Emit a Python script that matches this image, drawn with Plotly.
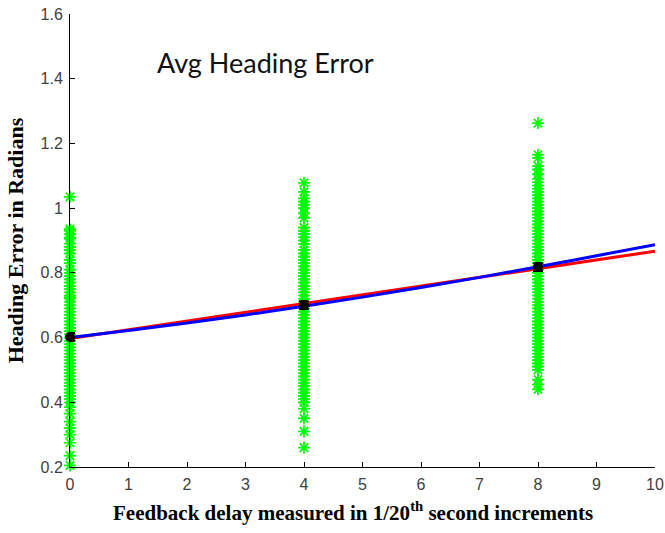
import plotly.graph_objects as go

# ---- data ----
delays = [0, 4, 8]

errors_d0 = [1.035, 0.935, 0.93, 0.92, 0.91, 0.905, 0.89, 0.88, 0.87, 0.86, 0.84, 0.83,
             0.81, 0.80, 0.79, 0.78, 0.77, 0.76, 0.75, 0.74, 0.73, 0.725, 0.72, 0.71,
             0.70, 0.69, 0.68, 0.67, 0.66, 0.65, 0.64, 0.63, 0.62, 0.61, 0.60, 0.59,
             0.58, 0.57, 0.56, 0.55, 0.54, 0.53, 0.52, 0.51, 0.50, 0.49, 0.48, 0.47,
             0.46, 0.45, 0.44, 0.43, 0.42, 0.41, 0.40, 0.385, 0.365, 0.34, 0.32, 0.30,
             0.275, 0.235, 0.205]
errors_d4 = [1.078, 1.05, 1.03, 1.02, 1.01, 1.0, 0.985, 0.97, 0.94, 0.93, 0.92, 0.91,
             0.90, 0.89, 0.87, 0.86, 0.85, 0.84, 0.83, 0.82, 0.81, 0.80, 0.79, 0.78,
             0.77, 0.76, 0.75, 0.74, 0.73, 0.72, 0.71, 0.70, 0.69, 0.68, 0.67, 0.66,
             0.65, 0.64, 0.63, 0.62, 0.61, 0.60, 0.59, 0.58, 0.57, 0.56, 0.55, 0.54,
             0.53, 0.52, 0.51, 0.50, 0.49, 0.48, 0.47, 0.46, 0.45, 0.44, 0.43, 0.42,
             0.41, 0.40, 0.38, 0.35, 0.31, 0.26]
errors_d8 = [1.263, 1.165, 1.155, 1.13, 1.12, 1.105, 1.09, 1.08, 1.07, 1.06, 1.05, 1.04,
             1.03, 1.02, 1.01, 1.00, 0.99, 0.98, 0.97, 0.96, 0.95, 0.94, 0.93, 0.92,
             0.91, 0.90, 0.89, 0.88, 0.87, 0.86, 0.85, 0.84, 0.83, 0.82, 0.81, 0.80,
             0.79, 0.78, 0.77, 0.76, 0.75, 0.74, 0.73, 0.72, 0.71, 0.70, 0.69, 0.68,
             0.67, 0.66, 0.65, 0.64, 0.63, 0.62, 0.61, 0.60, 0.59, 0.58, 0.57, 0.56,
             0.55, 0.54, 0.53, 0.52, 0.51, 0.50, 0.47, 0.455, 0.44]

mean_errors = [0.602, 0.700, 0.818]
mean_err_bars = [0.012, 0.012, 0.012]

red_fit_x = [0, 10]
red_fit = [0.597, 0.867]
blue_fit_x = [0, 1, 2, 3, 4, 5, 6, 7, 8, 9, 10]
blue_fit = [0.600, 0.622, 0.645, 0.670, 0.697, 0.725, 0.755, 0.786, 0.819, 0.853, 0.887]

x_ticks = [0, 1, 2, 3, 4, 5, 6, 7, 8, 9, 10]
y_ticks = [0.2, 0.4, 0.6, 0.8, 1.0, 1.2, 1.4, 1.6]
y_tick_labels = ["0.2", "0.4", "0.6", "0.8", "1", "1.2", "1.4", "1.6"]

GREEN = "#00ff00"

fig = go.Figure()

for d, vals in zip(delays, [errors_d0, errors_d4, errors_d8]):
    fig.add_trace(go.Scatter(
        x=[d] * len(vals), y=vals, mode="markers",
        marker=dict(symbol="asterisk-open", size=10, color=GREEN,
                    line=dict(color=GREEN, width=1.7)),
        cliponaxis=False, showlegend=False, hoverinfo="skip"))

fig.add_trace(go.Scatter(x=red_fit_x, y=red_fit, mode="lines",
                         line=dict(color="#ff0000", width=3), showlegend=False))
fig.add_trace(go.Scatter(x=blue_fit_x, y=blue_fit, mode="lines",
                         line=dict(color="#0000ff", width=3, shape="spline"),
                         showlegend=False))

fig.add_trace(go.Scatter(
    x=delays, y=mean_errors, mode="markers",
    marker=dict(symbol="circle", size=10, color="black"),
    error_y=dict(type="data", array=mean_err_bars, color="black", thickness=2, width=5),
    cliponaxis=False, showlegend=False))

fig.add_annotation(x=1.45, y=1.45, xref="x", yref="y", text="Avg Heading Error",
                   showarrow=False, xanchor="left", yanchor="middle",
                   font=dict(family="Lato", size=27, color="#111111"))

serif = "Liberation Serif, Times New Roman, serif"
fig.add_annotation(x=0.484, y=-0.098, xref="paper", yref="paper",
                   text="<b>Feedback delay measured in 1/20<sup>th</sup> second increments</b>",
                   showarrow=False, xanchor="center", yanchor="middle",
                   font=dict(family=serif, size=21, color="black"))

tickfont = dict(family="Liberation Sans, Arial", size=16, color="#404040")
fig.update_layout(
    width=665, height=533,
    margin=dict(l=70, r=10, t=14, b=66),
    paper_bgcolor="white", plot_bgcolor="white",
    xaxis=dict(range=[0, 10], tickvals=x_ticks, ticks="inside", ticklen=5,
               tickcolor="black", showline=True, linecolor="black", linewidth=1,
               showgrid=False, zeroline=False, automargin=False,
               ticklabelstandoff=3, tickfont=tickfont),
    yaxis=dict(range=[0.2, 1.6], tickvals=y_ticks, ticktext=y_tick_labels,
               ticks="inside", ticklen=5, tickcolor="black", showline=True,
               linecolor="black", linewidth=1, showgrid=False, zeroline=False,
               automargin=False, ticklabelstandoff=3, tickfont=tickfont,
               title=dict(text="<b>Heading Error in Radians</b>",
                          font=dict(family=serif, size=22, color="black"), standoff=10)),
)

fig.write_html("out.html")
